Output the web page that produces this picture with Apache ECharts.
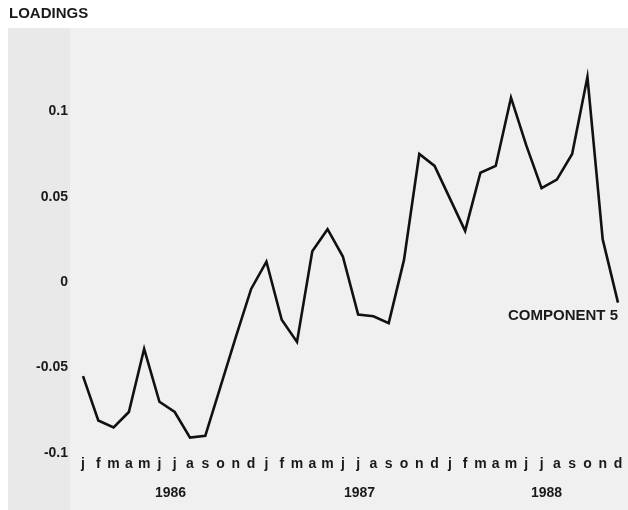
<!DOCTYPE html>
<html>
<head>
<meta charset="utf-8">
<script src="https://cdn.jsdelivr.net/npm/echarts@6/dist/echarts.min.js"></script>
<style>
  html, body { margin: 0; padding: 0; background: #ffffff; }
  #chart { width: 628px; height: 510px; }
</style>
</head>
<body>
<div id="chart"></div>
<script>
// Monthly loadings of component 5, 1986-1988
const monthLabels = ['j','f','m','a','m','j','j','a','s','o','n','d'];
const years = ['1986', '1987', '1988'];
const loadings1986 = [-0.055, -0.081, -0.085, -0.076, -0.039, -0.070, -0.076, -0.091, -0.090, -0.061, -0.032, -0.004];
const loadings1987 = [0.012, -0.022, -0.035, 0.018, 0.031, 0.015, -0.019, -0.020, -0.024, 0.013, 0.075, 0.068];
const loadings1988 = [0.049, 0.030, 0.064, 0.068, 0.108, 0.080, 0.055, 0.060, 0.075, 0.120, 0.025, -0.012];
const yTicks = [-0.1, -0.05, 0, 0.05, 0.1];

const categories = [];
years.forEach(function (yr) {
  monthLabels.forEach(function (m, i) { categories.push(yr + '-' + (i + 1)); });
});
const values = loadings1986.concat(loadings1987, loadings1988);

const font = 'Liberation Sans, Arial, Helvetica, sans-serif';
const ink = '#1a1a1a';

const chart = echarts.init(document.getElementById('chart'), null, { renderer: 'canvas' });
chart.setOption({
  backgroundColor: '#ffffff',
  animation: false,
  grid: { left: 83, right: 10, top: 60, bottom: 57 },
  xAxis: {
    type: 'category',
    data: categories,
    boundaryGap: false,
    axisLine: { show: false },
    axisTick: { show: false },
    splitLine: { show: false },
    axisLabel: {
      interval: 0,
      margin: 4,
      color: ink,
      fontFamily: font,
      fontWeight: 'bold',
      fontSize: 14,
      formatter: function (v) { return monthLabels[parseInt(v.split('-')[1], 10) - 1]; }
    }
  },
  yAxis: {
    type: 'value',
    min: -0.1,
    max: 0.13,
    interval: 0.05,
    axisLine: { show: false },
    axisTick: { show: false },
    splitLine: { show: false },
    axisLabel: {
      margin: 15,
      showMaxLabel: false,
      color: ink,
      fontFamily: font,
      fontWeight: 'bold',
      fontSize: 14,
      formatter: function (v) {
        const hit = yTicks.find(function (t) { return Math.abs(t - v) < 1e-9; });
        return hit === undefined ? '' : String(hit);
      }
    }
  },
  graphic: [
    { type: 'rect', z: -10, shape: { x: 8, y: 28, width: 620, height: 482 }, style: { fill: '#f0f0f0' } },
    { type: 'rect', z: -9, shape: { x: 8, y: 28, width: 62, height: 482 }, style: { fill: '#e9e9e9' } },
    { type: 'text', left: 9, top: 6, style: { text: 'LOADINGS', font: 'bold 15px ' + font, fill: ink } },
    { type: 'text', left: 508, top: 308, style: { text: 'COMPONENT 5', font: 'bold 15px ' + font, fill: ink } },
    { type: 'text', left: 155, top: 486, style: { text: years[0], font: 'bold 14px ' + font, fill: ink } },
    { type: 'text', left: 344, top: 486, style: { text: years[1], font: 'bold 14px ' + font, fill: ink } },
    { type: 'text', left: 531, top: 486, style: { text: years[2], font: 'bold 14px ' + font, fill: ink } }
  ],
  series: [{
    type: 'line',
    data: values,
    symbol: 'none',
    lineStyle: { color: '#111111', width: 2.6, join: 'miter' }
  }]
});
</script>
</body>
</html>
